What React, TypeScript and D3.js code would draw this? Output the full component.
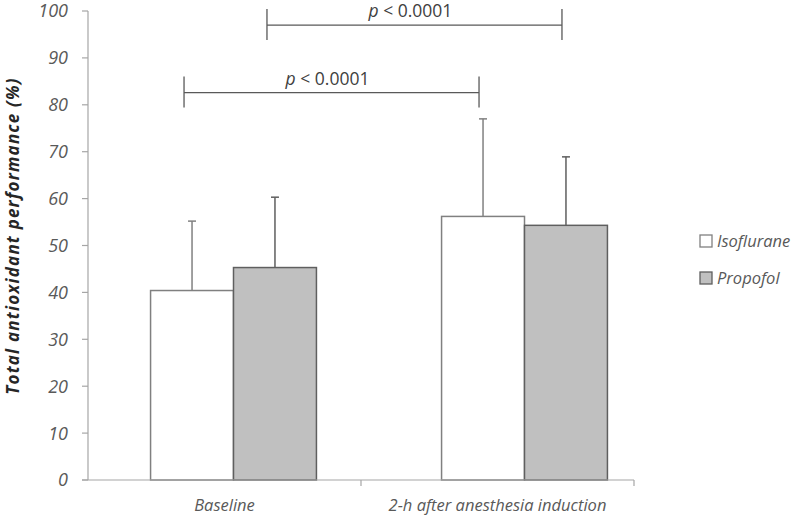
import { useMemo } from "react";
import { scaleBand, scaleLinear } from "d3";

const width = 800;
const height = 516;

const groups = ["Baseline", "2-h after anesthesia induction"];
const seriesNames = ["Isoflurane", "Propofol"];
const isofluraneMeans = [40.4, 56.2];
const isofluraneErr = [14.8, 20.8];
const propofolMeans = [45.3, 54.3];
const propofolErr = [15.0, 14.6];
const yTicks = [0, 10, 20, 30, 40, 50, 60, 70, 80, 90, 100];
const brackets = [
  { series: "Propofol", level: 97, label: "< 0.0001" },
  { series: "Isoflurane", level: 82.6, label: "< 0.0001" },
];

const fills = ["#ffffff", "#c0c0c0"];
const strokes = ["#808080", "#5f5f5f"];
const textColor = "#595959";
const font = "'Open Sans', 'Noto Sans', sans-serif";

const plotLeft = 88;
const plotTop = 11;
const plotBottom = 480;
const axisRight = 634;
const barsRight = 670;

export default function App() {
  const { y, xAxis, xBand, xSeries } = useMemo(() => {
    const y = scaleLinear().domain([0, 100]).range([plotBottom, plotTop]);
    const xAxis = scaleBand().domain(groups).range([plotLeft, axisRight]);
    const xBand = scaleBand()
      .domain(groups)
      .range([plotLeft, barsRight])
      .paddingInner(0.43)
      .paddingOuter(0.215);
    const xSeries = scaleBand()
      .domain(seriesNames)
      .range([0, xBand.bandwidth()]);
    return { y, xAxis, xBand, xSeries };
  }, []);

  const series = [
    { name: "Isoflurane", means: isofluraneMeans, errs: isofluraneErr },
    { name: "Propofol", means: propofolMeans, errs: propofolErr },
  ];

  const barCenter = (g: string, s: string) =>
    (xBand(g) ?? 0) + (xSeries(s) ?? 0) + xSeries.bandwidth() / 2;

  return (
    <svg
      width={width}
      height={height}
      viewBox={`0 0 ${width} ${height}`}
      style={{ position: "absolute", left: 0, top: 0, background: "#fff" }}
      fontFamily={font}
    >
      {/* bars */}
      {series.map((s, si) =>
        groups.map((g, gi) => {
          const x0 = (xBand(g) ?? 0) + (xSeries(s.name) ?? 0);
          return (
            <rect
              key={s.name + g}
              x={x0}
              y={y(s.means[gi])}
              width={xSeries.bandwidth()}
              height={y(0) - y(s.means[gi])}
              fill={fills[si]}
              stroke={strokes[si]}
              strokeWidth={1.5}
            />
          );
        }),
      )}
      {/* error bars, upper only */}
      {series.map((s, si) =>
        groups.map((g, gi) => {
          const cx = barCenter(g, s.name);
          const top = y(s.means[gi] + s.errs[gi]);
          return (
            <g key={"e" + s.name + g} stroke={strokes[si]} strokeWidth={1.5}>
              <line x1={cx} x2={cx} y1={y(s.means[gi])} y2={top} />
              <line x1={cx - 4} x2={cx + 4} y1={top} y2={top} />
            </g>
          );
        }),
      )}
      {/* y axis */}
      <line x1={plotLeft} x2={plotLeft} y1={y(0)} y2={y(100)} stroke="#a6a6a6" strokeWidth={1.2} />
      {yTicks.map((t) => (
        <g key={t}>
          <line x1={plotLeft - 6} x2={plotLeft} y1={y(t)} y2={y(t)} stroke="#a6a6a6" strokeWidth={1.2} />
          <text
            x={plotLeft - 20}
            y={y(t)}
            dy="0.36em"
            textAnchor="end"
            fontSize={18}
            fontStyle="italic"
            fill={textColor}
          >
            {t}
          </text>
        </g>
      ))}
      {/* x axis */}
      <line x1={plotLeft - 6} x2={axisRight} y1={y(0)} y2={y(0)} stroke="#a6a6a6" strokeWidth={1.2} />
      {groups.map((g) => (
        <g key={g}>
          <line
            x1={(xAxis(g) ?? 0) + xAxis.bandwidth()}
            x2={(xAxis(g) ?? 0) + xAxis.bandwidth()}
            y1={y(0)}
            y2={y(0) + 6}
            stroke="#a6a6a6"
            strokeWidth={1.2}
          />
          <text
            x={(xAxis(g) ?? 0) + xAxis.bandwidth() / 2}
            y={505}
            dy="0.36em"
            textAnchor="middle"
            fontSize={16.5}
            fontStyle="italic"
            fill={textColor}
          >
            {g}
          </text>
        </g>
      ))}
      {/* y title */}
      <text
        transform={`translate(13, ${236}) rotate(-90)`}
        textAnchor="middle"
        dy="0.36em"
        fontSize={17}
        fontWeight="bold"
        fontStyle="italic"
        letterSpacing={1.2}
        fill="#262626"
      >
        Total antioxidant performance (%)
      </text>
      {/* significance brackets */}
      {brackets.map((b) => {
        const x1 = barCenter(groups[0], b.series) - 8;
        const x2 = barCenter(groups[1], b.series) - 4;
        const yy = y(b.level);
        return (
          <g key={b.series} stroke="#595959" strokeWidth={1.3}>
            <line x1={x1} x2={x2} y1={yy} y2={yy} />
            <line x1={x1} x2={x1} y1={yy - 16} y2={yy + 15} />
            <line x1={x2} x2={x2} y1={yy - 16} y2={yy + 15} />
            <text
              x={(x1 + x2) / 2 - 4}
              y={yy - 8}
              textAnchor="middle"
              fontSize={17.5}
              fill="#404040"
              stroke="none"
            >
              <tspan fontStyle="italic">p</tspan> {b.label}
            </text>
          </g>
        );
      })}
      {/* legend */}
      {seriesNames.map((s, i) => (
        <g key={s} transform={`translate(700, ${235 + i * 37})`}>
          <rect x={0} y={0} width={12} height={12} fill={fills[i]} stroke={strokes[i]} strokeWidth={1.3} />
          <text x={17} y={6} dy="0.36em" fontSize={16.5} fontStyle="italic" fill={textColor}>
            {s}
          </text>
        </g>
      ))}
    </svg>
  );
}
